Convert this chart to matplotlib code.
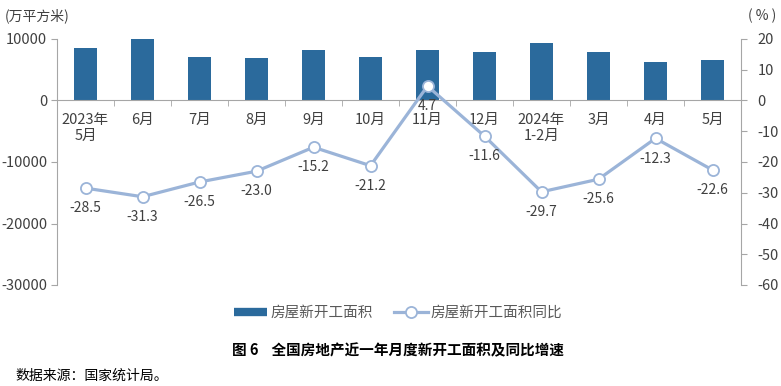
import matplotlib
matplotlib.use("Agg")
import matplotlib.pyplot as plt
from matplotlib.lines import Line2D
import numpy as np

plt.rcParams['font.family'] = ['Noto Sans CJK SC', 'DejaVu Sans']

categories = ["2023年\n5月", "6月", "7月", "8月", "9月", "10月", "11月", "12月",
              "2024年\n1-2月", "3月", "4月", "5月"]
area = [8480, 10000, 7010, 6900, 8150, 7010, 8250, 7930, 9400, 7830, 6250, 6520]
yoy = [-28.5, -31.3, -26.5, -23.0, -15.2, -21.2, 4.7, -11.6, -29.7, -25.6, -12.3, -22.6]

left_ticks = [10000, 0, -10000, -20000, -30000]
right_ticks = [20, 10, 0, -10, -20, -30, -40, -50, -60]

bar_color = "#2B6A9C"
line_color = "#9BB4D8"
axis_color = "#A6A6A6"
text_color = "#404040"

fig = plt.figure(figsize=(7.81, 3.86), dpi=100)
ax = fig.add_axes([57/781, 1-285/386, (741-57)/781, (285-39)/386])
x = np.arange(len(categories))

ax.bar(x, area, width=0.4, color=bar_color, zorder=2)
ax.set_xlim(-0.5, len(categories) - 0.5)
ax.set_ylim(-30000, 10000)
ax.set_yticks(left_ticks)
ax.set_yticklabels([str(v) for v in left_ticks], fontsize=10.5, color=text_color)
ax.tick_params(axis='y', direction='out', length=4, color=axis_color, pad=3)

for s in ['top', 'right']:
    ax.spines[s].set_visible(False)
ax.spines['left'].set_color(axis_color)
ax.spines['bottom'].set_color(axis_color)
ax.spines['bottom'].set_position(('data', 0))

ax.set_xticks(x)
ax.set_xticklabels(categories, fontsize=10.5, color=text_color, linespacing=1.15)
ax.set_xticks(np.arange(-0.5, len(categories) + 0.5, 1), minor=True)
ax.tick_params(axis='x', which='major', length=0, pad=9)
ax.tick_params(axis='x', which='minor', length=4, color=axis_color, direction='out')

ax2 = ax.twinx()
ax2.set_ylim(-60, 20)
ax2.set_yticks(right_ticks)
ax2.set_yticklabels([str(v) for v in right_ticks], fontsize=10.5, color=text_color)
ax2.tick_params(axis='y', direction='out', length=4, color=axis_color, pad=8)
for s in ['top', 'left', 'bottom']:
    ax2.spines[s].set_visible(False)
ax2.spines['right'].set_color(axis_color)

ax2.plot(x, yoy, color=line_color, lw=2.3, marker='o', markersize=8,
         markerfacecolor='white', markeredgecolor=line_color, markeredgewidth=1.3, zorder=3)
for xi, v in zip(x, yoy):
    ax2.annotate(f"{v:.1f}", (xi, v), xytext=(0, -9.5), textcoords='offset points',
                 ha='center', va='top', fontsize=10, color=text_color)

fig.text(5/781, 1-16/386, "(万平方米)", fontsize=10, color=text_color, va='center', ha='left')
fig.text(762/781, 1-16/386, "( % )", fontsize=10, color=text_color, va='center', ha='center')

h1 = Line2D([], [], color=bar_color, lw=6, solid_capstyle='butt')
h2 = Line2D([], [], color=line_color, lw=2.3, marker='o', markersize=8,
            markerfacecolor='white', markeredgecolor=line_color, markeredgewidth=1.3)
leg = fig.legend([h1, h2], ["房屋新开工面积", "房屋新开工面积同比"], loc='center',
                 bbox_to_anchor=(398/781, 1-313/386), ncol=2, frameon=False,
                 fontsize=10.5, handlelength=2.3, columnspacing=1.5, handletextpad=0.2)
for t in leg.get_texts():
    t.set_color("#595959")

fig.text(398/781, 1-350/386, "图 6    全国房地产近一年月度新开工面积及同比增速",
         fontsize=10.5, fontweight='bold', ha='center', va='center', color='black')
fig.text(15/781, 1-376/386, "数据来源：国家统计局。", fontsize=10, ha='left', va='center',
         color='black')

fig.savefig("out.png", dpi=100)
